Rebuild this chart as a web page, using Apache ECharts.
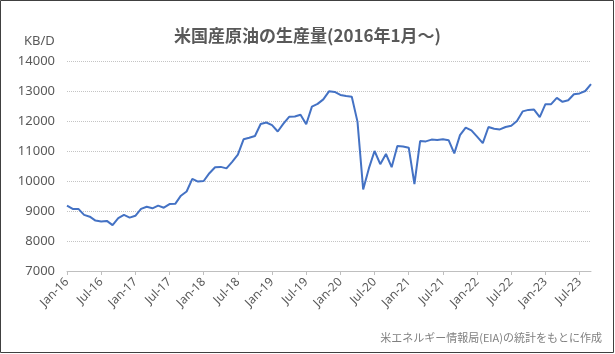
<!DOCTYPE html>
<html>
<head>
<meta charset="utf-8">
<script src="https://cdn.jsdelivr.net/npm/echarts@6/dist/echarts.min.js"></script>
<style>
  html, body { margin: 0; padding: 0; background: #fff; }
  #main { width: 615px; height: 354px; }
</style>
</head>
<body>
<div id="main"></div>
<script>
var chartDom = document.getElementById('main');
var myChart = echarts.init(chartDom);
var option;

// 月次の原油生産量 (KB/D)
const prod2016 = [9180, 9070, 9070, 8870, 8810, 8680, 8650, 8670, 8530, 8760, 8870, 8780];
const prod2017 = [8840, 9070, 9140, 9090, 9180, 9110, 9230, 9240, 9510, 9650, 10070, 9980];
const prod2018 = [10000, 10260, 10460, 10470, 10420, 10640, 10880, 11390, 11440, 11500, 11900, 11950];
const prod2019 = [11860, 11650, 11910, 12140, 12150, 12210, 11890, 12480, 12570, 12720, 12990, 12970];
const prod2020 = [12870, 12830, 12810, 11980, 9720, 10420, 11000, 10560, 10900, 10460, 11170, 11150];
const prod2021 = [11110, 9900, 11330, 11320, 11380, 11370, 11390, 11360, 10920, 11530, 11780, 11690];
const prod2022 = [11480, 11260, 11800, 11740, 11720, 11800, 11840, 12000, 12320, 12370, 12380, 12130];
const prod2023 = [12560, 12560, 12770, 12640, 12690, 12890, 12920, 13000, 13230];

const years = ['16', '17', '18', '19', '20', '21', '22', '23'];
const monthNames = ['Jan', 'Feb', 'Mar', 'Apr', 'May', 'Jun', 'Jul', 'Aug', 'Sep', 'Oct', 'Nov', 'Dec'];
const yTicks = [7000, 14000, 1000]; // min, max, interval

const values = [].concat(prod2016, prod2017, prod2018, prod2019, prod2020, prod2021, prod2022, prod2023);
const months = [];
years.forEach(function (y) {
  monthNames.forEach(function (m) {
    if (months.length < values.length) months.push(m + '-' + y);
  });
});

const gray = '#595959';

option = {
  animation: false,
  title: [
    {
      text: '米国産原油の生産量(2016年1月～)',
      left: 'center',
      top: 22,
      textStyle: {
        fontFamily: 'Noto Sans CJK JP',
        fontSize: 17,
        fontWeight: 'bold',
        color: gray
      }
    },
    {
      text: 'KB/D',
      left: 19,
      top: 30,
      textStyle: { fontFamily: 'Noto Sans', fontSize: 13, fontWeight: 'normal', color: gray }
    },
    {
      text: '米エネルギー情報局(EIA)の統計をもとに作成',
      right: 8,
      bottom: 6,
      textStyle: { fontFamily: 'Noto Sans CJK JP', fontSize: 11, fontWeight: 'normal', color: '#808080' }
    }
  ],
  graphic: [
    {
      type: 'rect',
      shape: { x: 0.5, y: 0.5, width: 613, height: 352 },
      style: { fill: 'none', stroke: '#404040', lineWidth: 1 },
      silent: true
    }
  ],
  grid: { left: 67, right: 24, top: 61, bottom: 83 },
  xAxis: {
    type: 'category',
    data: months,
    boundaryGap: false,
    axisLine: { lineStyle: { color: '#bfbfbf' } },
    axisTick: { interval: 5, length: 4, lineStyle: { color: '#bfbfbf' } },
    axisLabel: {
      interval: 5,
      rotate: 45,
      margin: 9,
      fontFamily: 'Noto Sans',
      fontSize: 12,
      color: gray
    },
    splitLine: { show: false }
  },
  yAxis: {
    type: 'value',
    min: yTicks[0],
    max: yTicks[1],
    interval: yTicks[2],
    axisLine: { show: false },
    axisTick: { show: false },
    axisLabel: {
      margin: 12,
      fontFamily: 'Noto Sans',
      fontSize: 13,
      color: gray,
      formatter: function (v) { return String(v); }
    },
    splitLine: { lineStyle: { color: '#c4c4c4', type: 'dotted', width: 1 } }
  },
  series: [
    {
      name: '生産量',
      type: 'line',
      data: values,
      showSymbol: false,
      symbol: 'none',
      lineStyle: { color: '#4472C4', width: 2 },
      itemStyle: { color: '#4472C4' }
    }
  ]
};

option && myChart.setOption(option);
</script>
</body>
</html>
